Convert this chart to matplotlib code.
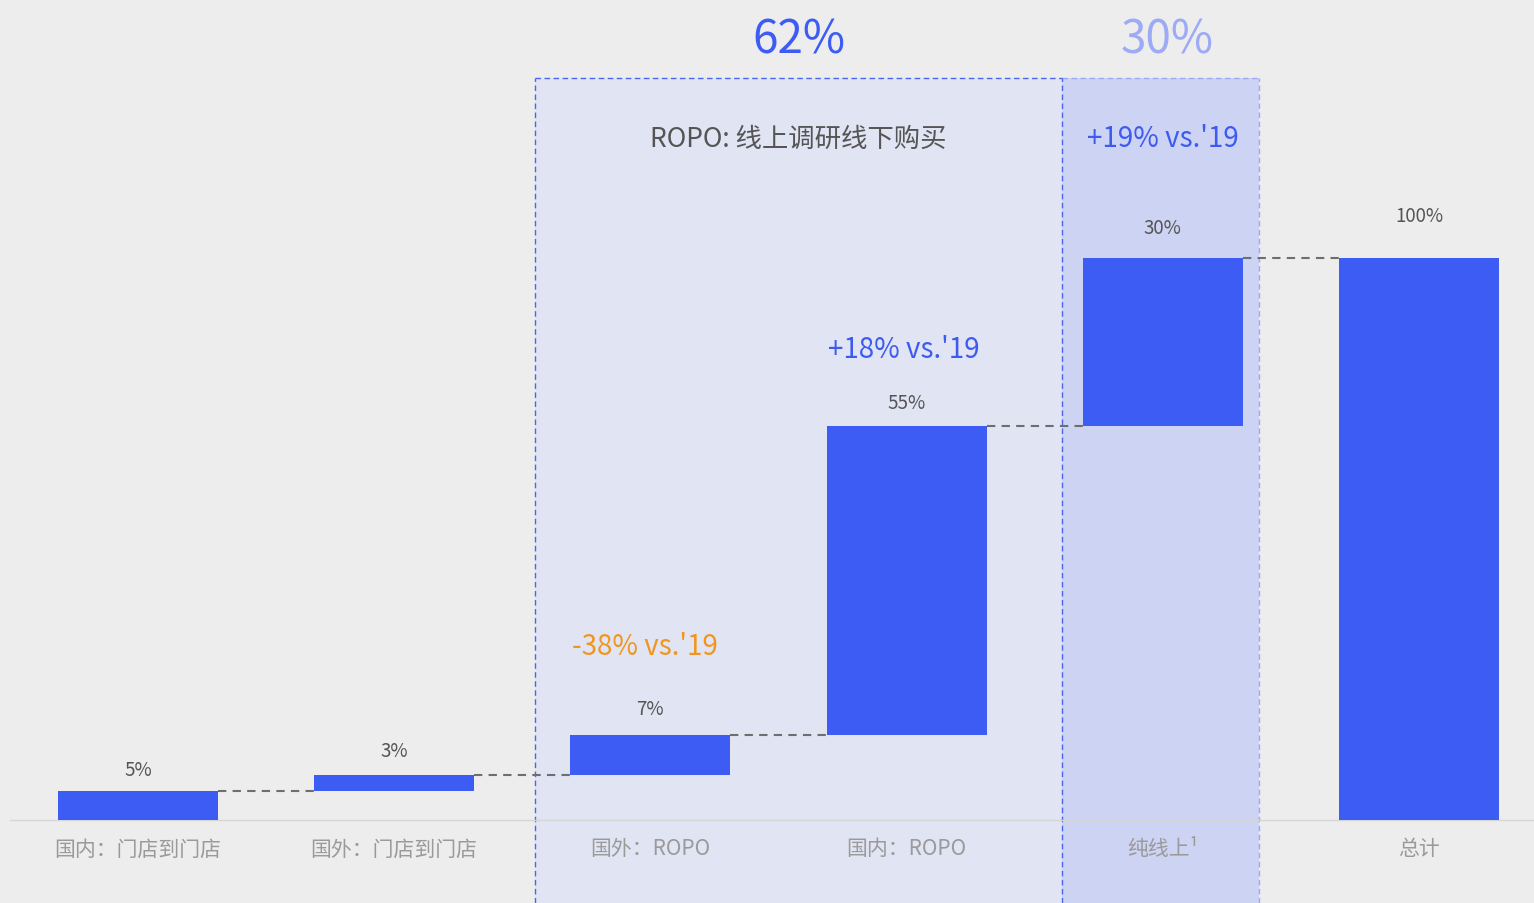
import matplotlib
matplotlib.use("Agg")
import matplotlib.pyplot as plt
from matplotlib.patches import Rectangle

plt.rcParams['font.family'] = ['Noto Sans CJK SC', 'DejaVu Sans']

# waterfall data (% share of purchases)
categories = ['国内：门店到门店', '国外：门店到门店', '国外：ROPO', '国内：ROPO', '纯线上¹', '总计']
values = [5, 3, 7, 55, 30, 100]
label_pad = [23, 25, 28, 25, 31, 43]  # px above bar top

ropo_share = '62%'
online_share = '30%'
ropo_title = 'ROPO: 线上调研线下购买'
vs_notes = [('-38% vs.\'19', 1.98, 31.0, '#F0961E'),
            ('+18% vs.\'19', 2.99, 84.0, '#3D5AF1'),
            ('+19% vs.\'19', 4.0, 121.4, '#3D5AF1')]

BLUE = '#3D5CF4'
LIGHT_BLUE = '#9DAAF5'
BG = '#EDEDED'

W, H = 1534, 904
x0_px, y0_px = 138, 820.5
x_scale, y_scale = 256.2, 5.62  # px per unit

fig = plt.figure(figsize=(W / 100, H / 100), dpi=100, facecolor=BG)
ax = fig.add_axes([0, 0, 1, 1])
ax.set_facecolor(BG)
ax.set_xlim(-x0_px / x_scale, (W - x0_px) / x_scale)
ax.set_ylim(-(H - y0_px) / y_scale, y0_px / y_scale)
ax.axis('off')

ymin, _ = ax.get_ylim()
ropo_l, ropo_r = 1.55, 3.607
online_r = 4.375
top = 132.0

# shaded groups
ax.add_patch(Rectangle((ropo_l, ymin), ropo_r - ropo_l, top - ymin,
                       facecolor='#E1E4F3', edgecolor='none', zorder=0))
ax.add_patch(Rectangle((ropo_r, ymin), online_r - ropo_r, top - ymin,
                       facecolor='#CDD3F2', edgecolor='none', zorder=0))
dash = dict(lw=1, ls=(0, (4, 2.5)), zorder=1)
ax.plot([ropo_r, online_r], [top, top], color=LIGHT_BLUE, **dash)
ax.plot([online_r, online_r], [ymin, top], color=LIGHT_BLUE, **dash)
ax.plot([ropo_l, ropo_r], [top, top], color='#4A66F0', **dash)
ax.plot([ropo_l, ropo_l], [ymin, top], color='#4A66F0', **dash)
ax.plot([ropo_r, ropo_r], [ymin, top], color='#4A66F0', **dash)

# baseline
ax.plot([-0.5, ax.get_xlim()[1]], [0, 0], color='#D6D6D6', lw=1, zorder=1)

width = 0.625
running = 0
prev_top = None
for i, (cat, v) in enumerate(zip(categories, values)):
    if i == len(values) - 1:
        bottom = 0
    else:
        bottom = running
        running += v
    bar_top = bottom + v
    ax.bar(i, v, width=width, bottom=bottom, color=BLUE, zorder=2)
    ax.text(i, bar_top + (label_pad[i] - 1) / y_scale, f'{v}%', ha='center', va='center',
            fontsize=13.5, color='#555555', zorder=3)
    ax.text(i, -29 / y_scale, cat, ha='center', va='center',
            fontsize=15, color='#9A9A9A', zorder=3)
    if prev_top is not None:
        ax.plot([i - 1 + width / 2, i - width / 2], [prev_top, prev_top],
                color='#6E6E6E', lw=1.5, ls=(0, (4, 3)), zorder=2)
    prev_top = bar_top

# group headers
ax.text((ropo_l + ropo_r) / 2, 138.8, ropo_share, ha='center', va='center',
        fontsize=33, color=BLUE)
ax.text((ropo_r + online_r) / 2 + 0.025, 138.8, online_share, ha='center', va='center',
        fontsize=33, color=LIGHT_BLUE)
ax.text((ropo_l + ropo_r) / 2, 121.2, ropo_title, ha='center', va='center',
        fontsize=19, color='#555555')
for txt, x, y, c in vs_notes:
    ax.text(x, y - 0.2, txt, ha='center', va='center', fontsize=20, color=c)

fig.savefig('out.png', dpi=100, facecolor=BG)
